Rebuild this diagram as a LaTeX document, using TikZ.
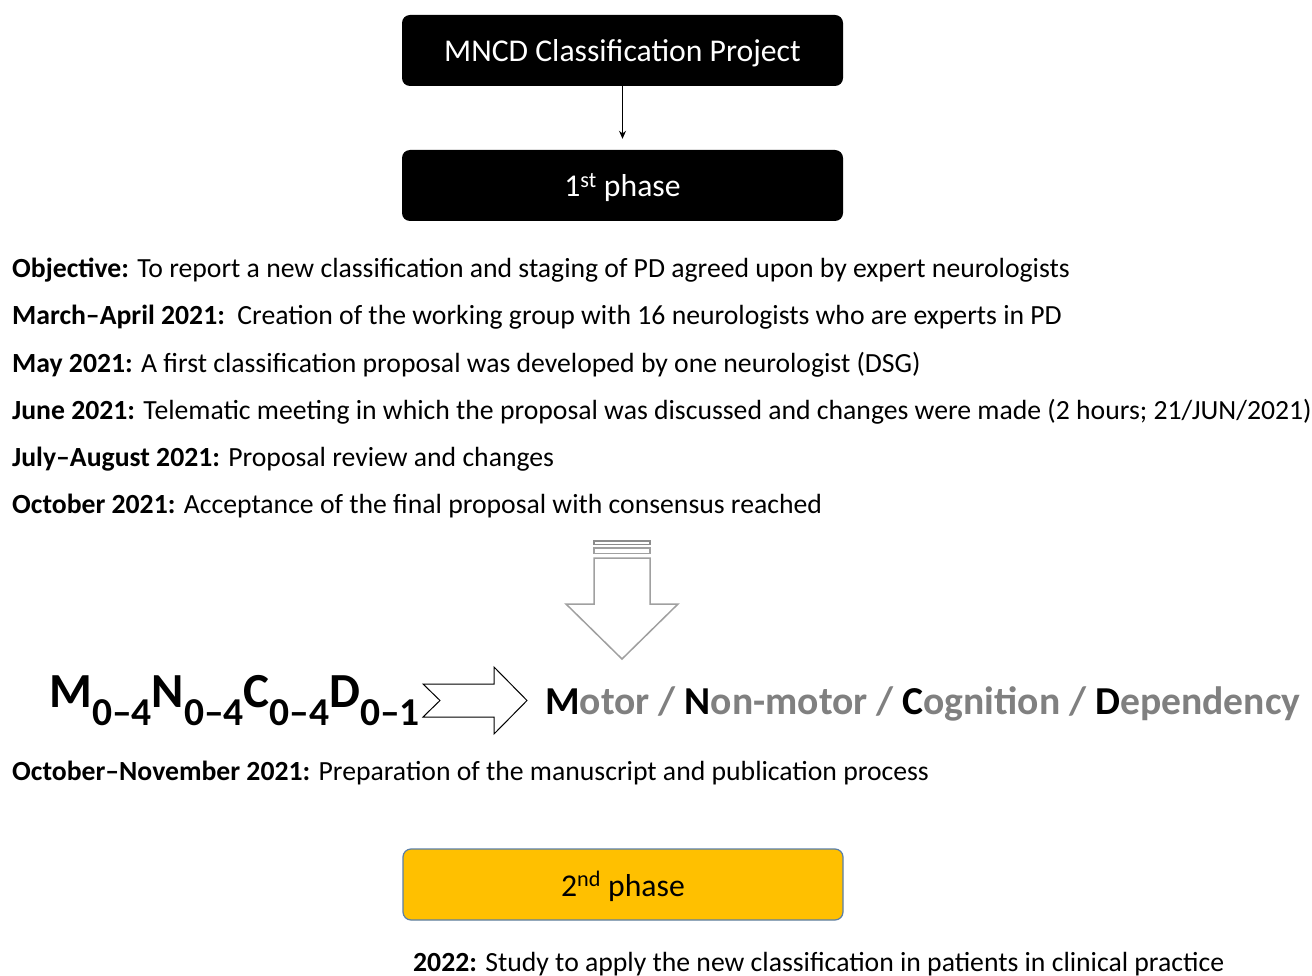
\documentclass[tikz,border=0pt]{standalone}
\usepackage{fontspec}
\setmainfont{Carlito}
\usetikzlibrary{arrows.meta}
\definecolor{phasey}{HTML}{FFC000}
\definecolor{phaseb}{HTML}{5A7FA8}
\definecolor{mgray}{HTML}{808080}
\definecolor{agray}{HTML}{A0A0A0}
\tikzset{
  blackbox/.style={rectangle, rounded corners=8pt, fill=black, text=white,
    minimum width=441pt, minimum height=71pt, inner sep=0pt,
    text height=23pt, text depth=0pt,
    font=\fontsize{31.7}{36}\selectfont},
  yellowbox/.style={rectangle, rounded corners=8pt, fill=phasey, draw=phaseb,
    line width=1.2pt, text=black, minimum width=440pt, minimum height=71pt,
    inner sep=0pt, text height=23pt, text depth=0pt,
    font=\fontsize{31.7}{36}\selectfont},
  txtline/.style={anchor=base west, inner sep=0pt, font=\fontsize{27.7}{32}\selectfont},
  blockarrow/.style={draw=agray, line width=1.5pt, fill=white, line join=miter},
  notcharrow/.style={draw=black, line width=1pt, fill=white, line join=miter},
  conn/.style={draw=black, line width=0.9pt, -{Stealth[length=8pt,width=7pt]}}
}
\newcommand{\mysub}[1]{\raisebox{-18pt}{\fontsize{39.5}{43}\selectfont #1}}
\begin{document}
\begin{tikzpicture}[x=1pt,y=-1pt]
\useasboundingbox (0,0) rectangle (1312,976);
\fill[white] (0,0) rectangle (1312,976);

\node[blackbox] (b1) at (622.5,50.5) {MNCD Classification Project};
\node[blackbox] (b2) at (622.5,185.5) {1\textsuperscript{st} phase};
\draw[conn, shorten >=11pt] (b1.south) -- (b2.north);

\node[txtline] (t1) at (12,278) {\textbf{Objective:} To report a new classification and staging of PD agreed upon by expert neurologists};
\node[txtline] (t2) at (12,325) {\textbf{March–April 2021:}\ \ Creation of the working group with 16 neurologists who are experts in PD};
\node[txtline] (t3) at (12,372) {\textbf{May 2021:} A first classification proposal was developed by one neurologist (DSG)};
\node[txtline] (t4) at (12,419) {\textbf{June 2021:} Telematic meeting in which the proposal was discussed and changes were made (2 hours; 21/JUN/2021)};
\node[txtline] (t5) at (12,466) {\textbf{July–August 2021:} Proposal review and changes};
\node[txtline] (t6) at (12,513) {\textbf{October 2021:} Acceptance of the final proposal with consensus reached};

% striped down arrow
\draw[blockarrow, draw=gray!90] (594,541) rectangle (650,544.5);
\draw[blockarrow] (594,548) rectangle (650,553.5);
\draw[blockarrow] (594,558) -- (650,558) -- (650,604) -- (678,604) -- (622,659) -- (566,604) -- (594,604) -- cycle;

\node[anchor=base west, inner sep=0pt, font=\bfseries\fontsize{49}{53}\selectfont] (formula) at (49,707)
  {M\mysub{0–4}N\mysub{0–4}C\mysub{0–4}D\mysub{0–1}};

% notched right arrow
\draw[notcharrow] (423,684) -- (494,684) -- (494,667) -- (527,700.5) -- (494,734) -- (494,717) -- (423,717) -- (440,700.5) -- cycle;

\node[anchor=base west, inner sep=0pt, font=\bfseries\fontsize{39.6}{44}\selectfont] (mncd) at (545,714)
  {M\textcolor{mgray}{otor / }N\textcolor{mgray}{on-motor / }C\textcolor{mgray}{ognition / }D\textcolor{mgray}{ependency}};

\node[txtline] (t7) at (12,780) {\textbf{October–November 2021:} Preparation of the manuscript and publication process};

\node[yellowbox] (b3) at (623,884.5) {2\textsuperscript{nd} phase};

\node[txtline] (t8) at (413,971) {\textbf{2022:} Study to apply the new classification in patients in clinical practice};
\end{tikzpicture}
\end{document}
